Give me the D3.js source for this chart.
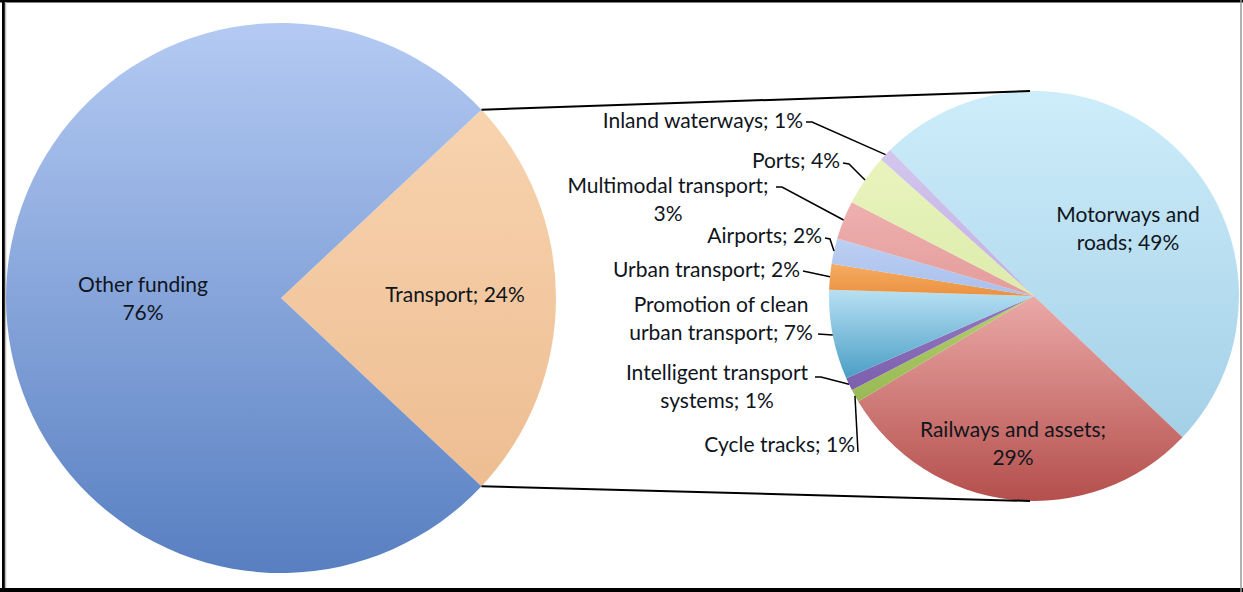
<!DOCTYPE html>
<html>
<head>
<meta charset="utf-8">
<script src="https://cdn.jsdelivr.net/npm/d3@7"></script>
<style>
  html, body { margin: 0; padding: 0; background: #fff; }
  svg { display: block; }
  text { font-family: Lato, "Open Sans", sans-serif; font-size: 21px; fill: #10151c; }
</style>
</head>
<body>
<svg id="chart"></svg>
<script>
// main pie
var main_labels = ["Transport", "Other funding"];
var main_values = [24, 76];

// breakdown of transport
var sub_labels = ["Motorways and roads", "Railways and assets", "Cycle tracks", "Intelligent transport systems",
  "Promotion of clean urban transport", "Urban transport", "Airports", "Multimodal transport", "Ports", "Inland waterways"];
var sub_values = [49, 29, 1, 1, 7, 2, 2, 3, 4, 1];

var main_colors = {"Transport": ["#f7d3ae", "#eebd92"], "Other funding": ["#b4caf3", "#587fc1"]};
var sub_colors = {
  "Motorways and roads": ["#cdedfa", "#a4d0e7"],
  "Railways and assets": ["#eaa9a7", "#b44f4c"],
  "Cycle tracks": ["#b3cf6c", "#98b955"],
  "Intelligent transport systems": ["#9479c0", "#7b5fae"],
  "Promotion of clean urban transport": ["#b8e0f3", "#4a9ec5"],
  "Urban transport": ["#f6ac62", "#ea9240"],
  "Airports": ["#bccff3", "#a9c0ec"],
  "Multimodal transport": ["#eeb0ae", "#e39c9b"],
  "Ports": ["#e9f4bd", "#dcebab"],
  "Inland waterways": ["#d3c6ee", "#c0b0e2"]
};

var W = 1243, H = 592;
var svg = d3.select("#chart").attr("width", W).attr("height", H);
var defs = svg.append("defs");

function grad(id, c) {
  var g = defs.append("linearGradient").attr("id", id)
    .attr("x1", 0).attr("y1", 0).attr("x2", 0).attr("y2", 1);
  g.append("stop").attr("offset", "0%").attr("stop-color", c[0]);
  g.append("stop").attr("offset", "100%").attr("stop-color", c[1]);
  return "url(#" + id + ")";
}

// frame
svg.append("rect").attr("x", 0).attr("y", 0).attr("width", W).attr("height", H).attr("fill", "#fff");
svg.append("line").attr("x1", 0).attr("y1", 1).attr("x2", W).attr("y2", 1).attr("stroke", "#000").attr("stroke-width", 3);
svg.append("line").attr("x1", 0).attr("y1", H - 2).attr("x2", W).attr("y2", H - 2).attr("stroke", "#000").attr("stroke-width", 4);
svg.append("line").attr("x1", 3.5).attr("y1", 0).attr("x2", 3.5).attr("y2", H).attr("stroke", "#000").attr("stroke-width", 3);
svg.append("line").attr("x1", 5.5).attr("y1", 2).attr("x2", 5.5).attr("y2", H - 4).attr("stroke", "#bbb").attr("stroke-width", 1.5);
svg.append("line").attr("x1", 1241).attr("y1", 0).attr("x2", 1241).attr("y2", H).attr("stroke", "#999").attr("stroke-width", 1.5);

// ---- main pie
var mcx = 281, mcy = 298, mr = 275;
var mainData = main_labels.map(function(l, i){ return {label: l, value: main_values[i]}; });
var transportFrac = main_values[0] / d3.sum(main_values);
var mainPie = d3.pie().sort(null).value(function(d){ return d.value; })
  .startAngle(Math.PI / 2 - transportFrac * Math.PI)
  .endAngle(Math.PI / 2 - transportFrac * Math.PI + 2 * Math.PI);
var mainArcs = mainPie(mainData);
var mainArc = d3.arc().innerRadius(0).outerRadius(mr);

var gm = svg.append("g").attr("transform", "translate(" + mcx + "," + mcy + ")");
gm.selectAll("path").data(mainArcs).enter().append("path")
  .attr("d", mainArc)
  .attr("fill", function(d, i){ return grad("mg" + i, main_colors[d.data.label]); });

// ---- sub pie
var scx = 1034, scy = 296, sr = 205;
var subData = sub_labels.map(function(l, i){ return {label: l, value: sub_values[i]}; });
var subStart = -44.6 * Math.PI / 180;
var subPie = d3.pie().sort(null).value(function(d){ return d.value; })
  .startAngle(subStart).endAngle(subStart + 2 * Math.PI);
var subArcs = subPie(subData);
var subArc = d3.arc().innerRadius(0).outerRadius(sr);
var edgeArc = d3.arc().innerRadius(sr).outerRadius(sr);

var gs = svg.append("g").attr("transform", "translate(" + scx + "," + scy + ")");
gs.selectAll("path").data(subArcs).enter().append("path")
  .attr("d", subArc)
  .attr("fill", function(d, i){ return grad("sg" + i, sub_colors[d.data.label]); });

// connector lines between the transport slice and the sub pie
var t = mainArcs[0];
function polar(cx, cy, r, a){ return [cx + r * Math.sin(a), cy - r * Math.cos(a)]; }
var pTop = polar(mcx, mcy, mr, t.startAngle), pBot = polar(mcx, mcy, mr, t.endAngle);
svg.append("line").attr("x1", pTop[0]).attr("y1", pTop[1]).attr("x2", scx - 4).attr("y2", scy - sr)
  .attr("stroke", "#000").attr("stroke-width", 2);
svg.append("line").attr("x1", pBot[0]).attr("y1", pBot[1]).attr("x2", scx - 4).attr("y2", scy + sr)
  .attr("stroke", "#000").attr("stroke-width", 2);

// ---- labels
function addText(x, y, anchor, lines) {
  var tx = svg.append("text").attr("text-anchor", anchor);
  lines.forEach(function(s, i){
    tx.append("tspan").attr("x", x).attr("y", y + i * 27.5).text(s);
  });
}

addText(143, 292, "middle", [main_labels[1], main_values[1] + "%"]);
addText(455, 302, "middle", [main_labels[0] + "; " + main_values[0] + "%"]);

var layout = {
  "Motorways and roads": {x: 1128, y: 222, a: "middle", lines: ["Motorways and", "roads; "]},
  "Railways and assets": {x: 1013, y: 437, a: "middle", lines: ["Railways and assets;", ""]},
  "Inland waterways": {x: 803, y: 128, a: "end", lines: ["Inland waterways; "], lead: [[806, 122], [812, 122]]},
  "Ports": {x: 840, y: 168, a: "end", lines: ["Ports; "], lead: [[843, 163], [849, 164]]},
  "Multimodal transport": {x: 668, y: 193, a: "middle", lines: ["Multimodal transport;", ""], lead: [[776, 187], [782, 187]]},
  "Airports": {x: 822, y: 243, a: "end", lines: ["Airports; "], lead: [[825, 238], [830, 239]]},
  "Urban transport": {x: 800, y: 277, a: "end", lines: ["Urban transport; "], lead: [[803, 271]]},
  "Promotion of clean urban transport": {x: 721, y: 312, a: "middle", lines: ["Promotion of clean", "urban transport; "], lead: [[818, 334]]},
  "Intelligent transport systems": {x: 717, y: 380, a: "middle", lines: ["Intelligent transport", "systems; "], lead: [[815, 377], [821, 377]]},
  "Cycle tracks": {x: 855, y: 452, a: "end", lines: ["Cycle tracks; "], lead: [[858, 452]]}
};

var leadLine = d3.line();
subArcs.forEach(function(d){
  var L = layout[d.data.label];
  var lines = L.lines.slice();
  lines[lines.length - 1] += d.data.value + "%";
  addText(L.x, L.y, L.a, lines);
  if (L.lead) {
    var c = edgeArc.centroid(d);
    var pts = L.lead.concat([[scx + c[0], scy + c[1]]]);
    svg.append("path").attr("d", leadLine(pts)).attr("fill", "none")
      .attr("stroke", "#000").attr("stroke-width", 1.5);
  }
});
</script>
</body>
</html>
